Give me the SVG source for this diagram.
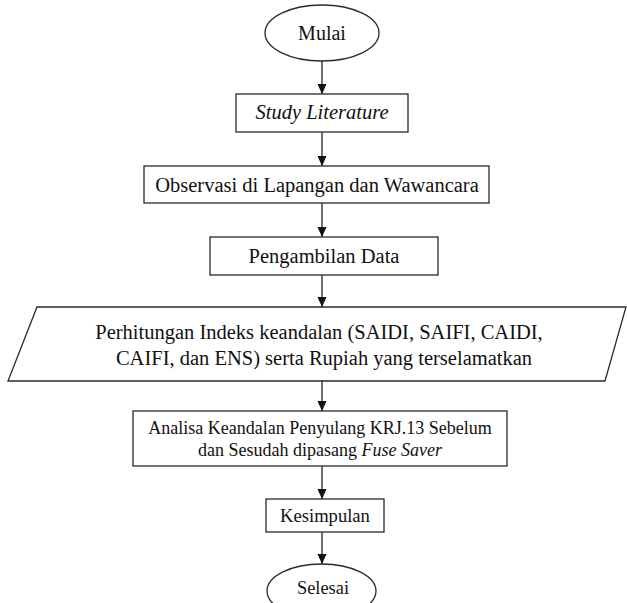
<svg xmlns="http://www.w3.org/2000/svg" width="627" height="603" viewBox="0 0 627 603">
<style>
.s{fill:#fff;stroke:#2a2a2a;stroke-width:1.3}
.t{font-family:"Liberation Serif","Times New Roman",serif;fill:#111;text-anchor:middle}
.c{stroke:#222;stroke-width:1.3;fill:none}
</style>
<defs>
<marker id="a" markerWidth="10" markerHeight="11" refX="11" refY="5" orient="auto" markerUnits="userSpaceOnUse" viewBox="0 0 11 10">
<path d="M0,0 L11,5 L0,10 Z" fill="#111"/>
</marker>
</defs>
<rect width="627" height="603" fill="#fff"/>
<g id="connectors">
<line class="c" x1="322" y1="61" x2="322" y2="94" marker-end="url(#a)"/>
<line class="c" x1="322" y1="132" x2="322" y2="166" marker-end="url(#a)"/>
<line class="c" x1="322" y1="203" x2="322" y2="237" marker-end="url(#a)"/>
<line class="c" x1="322" y1="275" x2="322" y2="307" marker-end="url(#a)"/>
<line class="c" x1="322" y1="381" x2="322" y2="411" marker-end="url(#a)"/>
<line class="c" x1="322" y1="466" x2="322" y2="499" marker-end="url(#a)"/>
<line class="c" x1="322" y1="532" x2="322" y2="564" marker-end="url(#a)"/>
</g>
<g id="mulai">
<ellipse class="s" cx="322" cy="33" rx="57" ry="28"/>
<text class="t" x="322" y="40" font-size="20">Mulai</text>
</g>
<g id="study">
<rect class="s" x="236" y="94" width="172" height="38"/>
<text class="t" x="322" y="119" font-size="20.5" font-style="italic">Study Literature</text>
</g>
<g id="observasi">
<rect class="s" x="144" y="166" width="345" height="37"/>
<text class="t" x="317" y="192" font-size="20.5">Observasi di Lapangan dan Wawancara</text>
</g>
<g id="pengambilan">
<rect class="s" x="210" y="237" width="228" height="38"/>
<text class="t" x="324" y="263" font-size="20.5">Pengambilan Data</text>
</g>
<g id="perhitungan">
<polygon class="s" points="37,307 626,307 605,381 8,381"/>
<text class="t" x="319" y="339" font-size="20.5">Perhitungan Indeks keandalan (SAIDI, SAIFI, CAIDI,</text>
<text class="t" x="324" y="365" font-size="20.5">CAIFI, dan ENS) serta Rupiah yang terselamatkan</text>
</g>
<g id="analisa">
<rect class="s" x="133" y="411" width="374" height="55"/>
<text class="t" x="320" y="434" font-size="18">Analisa Keandalan Penyulang KRJ.13 Sebelum</text>
<text class="t" x="320" y="456" font-size="18">dan Sesudah dipasang <tspan font-style="italic">Fuse Saver</tspan></text>
</g>
<g id="kesimpulan">
<rect class="s" x="266" y="499" width="118" height="33"/>
<text class="t" x="325" y="521.5" font-size="18.6">Kesimpulan</text>
</g>
<g id="selesai">
<ellipse class="s" cx="321.5" cy="591" rx="54.5" ry="27"/>
<text class="t" x="323" y="594" font-size="18.4">Selesai</text>
</g>
</svg>
